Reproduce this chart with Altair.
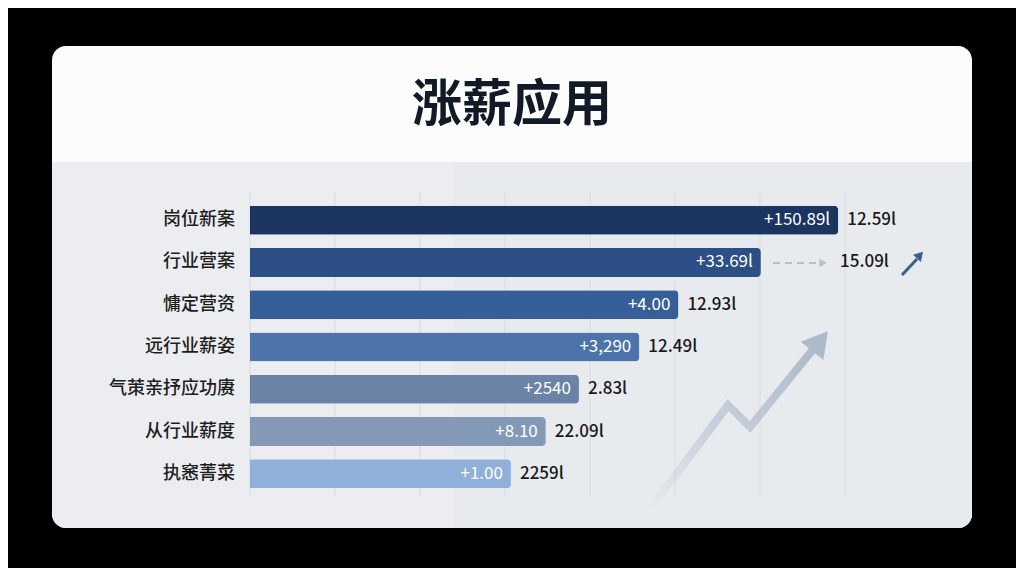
import altair as alt
import pandas as pd

# ---------------- data ----------------
title_text = "涨薪应用"
categories = ["岗位新案", "行业营案", "慵定营资", "远行业薪姿", "气茦亲抒应功赓", "从行业薪度", "执窸菁菜"]
bar_length = [6.92, 6.01, 5.04, 4.58, 3.87, 3.48, 3.07]
inner_labels = ["+150.89l", "+33.69l", "+4.00", "+3,290", "+2540", "+8.10", "+1.00"]
outer_labels = ["12.59l", "15.09l", "12.93l", "12.49l", "2.83l", "22.09l", "2259l"]
bar_colors = ["#1b3460", "#2c5086", "#375f97", "#4c74aa", "#6a83a7", "#8499b8", "#8fb0d8"]
grid_ticks = [0, 1, 2, 3, 4, 5, 6, 7]

FONT = "Noto Sans CJK SC"

df = pd.DataFrame({
    "cat": categories,
    "v": bar_length,
    "inner": inner_labels,
    "outer": outer_labels,
    "color": bar_colors,
    "row": list(range(len(categories))),
})
grid_df = pd.DataFrame({"g": grid_ticks})
one = pd.DataFrame({"k": [0]})

xs = alt.Scale(domain=[0, 7], range=[242, 837], nice=False, zero=True)
ys = alt.Scale(domain=categories, range=[191, 487], paddingInner=0.315, paddingOuter=0.1575)

# ---------------- card background ----------------
card = alt.Chart(one).mark_rect(cornerRadius=14, color="#fbfbfc").encode(
    x=alt.value(44), x2=alt.value(964), y=alt.value(38), y2=alt.value(520)
)
gray = alt.Chart(one).mark_rect(
    cornerRadiusBottomLeft=14, cornerRadiusBottomRight=14, color="#ebedf0"
).encode(x=alt.value(44), x2=alt.value(964), y=alt.value(154), y2=alt.value(520))
gray_right = alt.Chart(one).mark_rect(
    cornerRadiusBottomRight=14, color="#e8ebee"
).encode(x=alt.value(445), x2=alt.value(964), y=alt.value(154), y2=alt.value(520))

title = alt.Chart(one).mark_text(
    font=FONT, fontSize=50, fontWeight="bold", color="#121a28", baseline="middle", align="center"
).encode(x=alt.value(504), y=alt.value(98), text=alt.value(title_text))

# ---------------- grid ----------------
grid = alt.Chart(grid_df).mark_rule(color="#d8dce1", strokeWidth=1).encode(
    x=alt.X("g:Q", scale=xs, axis=None), y=alt.value(184), y2=alt.value(489)
)

# ---------------- decorative trend arrow ----------------
trend_df = pd.DataFrame({"px": [640, 720, 742, 807], "py": [504, 397, 419, 339], "o": [0, 1, 2, 3]})
trend = alt.Chart(trend_df).mark_line(
    strokeWidth=8, strokeJoin="miter", strokeCap="butt",
    stroke=alt.Gradient(
        gradient="linear",
        stops=[
            alt.GradientStop(color="rgba(180,192,208,0)", offset=0),
            alt.GradientStop(color="rgba(180,192,208,0.65)", offset=0.45),
            alt.GradientStop(color="#adbacb", offset=1),
        ],
        x1=0, y1=1, x2=1, y2=0,
    ),
).encode(
    x=alt.X("px:Q", scale=None, axis=None),
    y=alt.Y("py:Q", scale=None, axis=None),
    order="o:O",
)
trend_head = alt.Chart(one).mark_point(
    shape="triangle-up", filled=True, size=850, angle=39, color="#adbacb", opacity=1
).encode(x=alt.value(812), y=alt.value(333))

# ---------------- bars ----------------
bars = alt.Chart(df).mark_bar(cornerRadiusTopRight=4, cornerRadiusBottomRight=4).encode(
    x=alt.X("v:Q", scale=xs, axis=None),
    y=alt.Y("cat:N", scale=ys, axis=None, sort=categories),
    color=alt.Color("color:N", scale=None),
)

cat_labels = alt.Chart(df).mark_text(
    font=FONT, fontSize=18, fontWeight=500, color="#1e1e1e", align="right", baseline="middle"
).encode(
    x=alt.value(227),
    y=alt.Y("cat:N", scale=ys, axis=None, sort=categories),
    text="cat:N",
)

inner = alt.Chart(df).mark_text(
    font=FONT, fontSize=17, color="#ffffff", align="right", baseline="middle", dx=-8
).encode(
    x=alt.X("v:Q", scale=xs, axis=None),
    y=alt.Y("cat:N", scale=ys, axis=None, sort=categories),
    text="inner:N",
)

outer = alt.Chart(df).transform_filter("datum.row != 1").mark_text(
    font=FONT, fontSize=17, fontWeight=500, color="#1a1a1a", align="left", baseline="middle", dx=9
).encode(
    x=alt.X("v:Q", scale=xs, axis=None),
    y=alt.Y("cat:N", scale=ys, axis=None, sort=categories),
    text="outer:N",
)
outer_special = alt.Chart(df).transform_filter("datum.row == 1").mark_text(
    font=FONT, fontSize=17, fontWeight=500, color="#1a1a1a", align="left", baseline="middle"
).encode(
    x=alt.value(832),
    y=alt.Y("cat:N", scale=ys, axis=None, sort=categories),
    text="outer:N",
)

# dashed arrow and small arrow beside row 2
dash = alt.Chart(one).mark_rule(color="#b6c0cb", strokeWidth=2, strokeDash=[7, 5]).encode(
    x=alt.value(765), x2=alt.value(810), y=alt.value(255), y2=alt.value(255)
)
dash_head = alt.Chart(one).mark_point(
    shape="triangle-right", filled=True, size=70, color="#b6c0cb", opacity=1
).encode(x=alt.value(815), y=alt.value(255))
small = alt.Chart(one).mark_rule(color="#3d5f8d", strokeWidth=3).encode(
    x=alt.value(894), x2=alt.value(909), y=alt.value(267), y2=alt.value(251)
)
small_head = alt.Chart(one).mark_point(
    shape="triangle-up", filled=True, size=110, angle=42, color="#3d5f8d", opacity=1
).encode(x=alt.value(912), y=alt.value(247))

chart = alt.layer(
    card, gray, gray_right, title, grid, trend, trend_head,
    bars, cat_labels, inner, outer, outer_special,
    dash, dash_head, small, small_head,
).resolve_scale(x="independent", y="independent").properties(
    width=1008, height=560, padding=0, background="#000000",
    autosize=alt.AutoSizeParams(type="fit", contains="padding"),
).configure_view(stroke=None)

chart.save("out.html", embed_options={"renderer": "svg", "actions": False})
